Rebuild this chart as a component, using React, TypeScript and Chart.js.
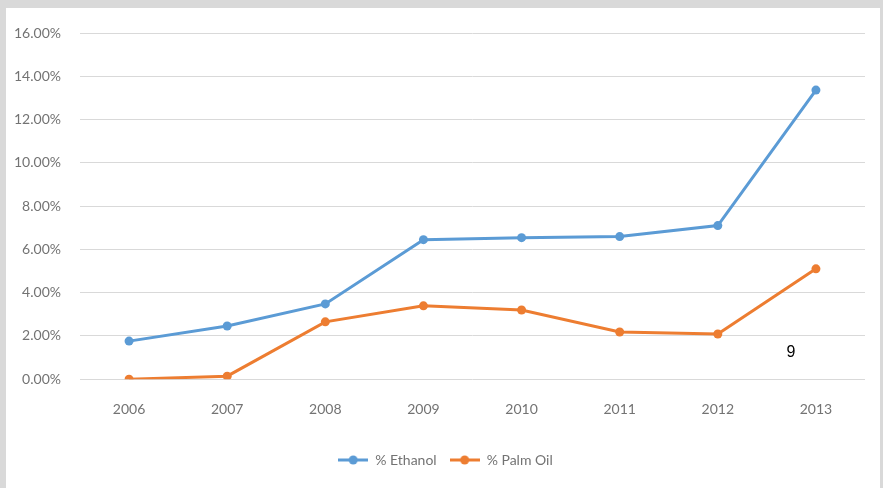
import React, { useEffect, useRef } from "react";
import { Chart, registerables } from "chart.js";

Chart.register(...registerables);

const years = ["2006", "2007", "2008", "2009", "2010", "2011", "2012", "2013"];
const ethanol = [1.76, 2.46, 3.48, 6.45, 6.54, 6.59, 7.1, 13.36];
const palmOil = [0.0, 0.14, 2.65, 3.39, 3.2, 2.18, 2.09, 5.1];
const seriesNames = ["% Ethanol", "% Palm Oil"];
const seriesColors = ["#5b9bd5", "#ed7d31"];

function legendIcon(color: string): HTMLCanvasElement {
  const c = document.createElement("canvas");
  c.width = 30;
  c.height = 10;
  const ctx = c.getContext("2d")!;
  ctx.strokeStyle = color;
  ctx.lineWidth = 3;
  ctx.beginPath();
  ctx.moveTo(0, 5);
  ctx.lineTo(30, 5);
  ctx.stroke();
  ctx.fillStyle = color;
  ctx.beginPath();
  ctx.arc(15, 5, 4.5, 0, Math.PI * 2);
  ctx.fill();
  return c;
}

const shiftLegend = {
  id: "shiftLegend",
  afterLayout(chart: any) {
    const l = chart.legend;
    if (l) {
      l.left += 10;
      l.right += 10;
    }
  },
};

export default function App() {
  const ref = useRef<HTMLCanvasElement>(null);

  useEffect(() => {
    document.body.style.margin = "0";
    const icons = seriesColors.map(legendIcon);
    const textColor = "#737373";
    const font = { family: "Lato", size: 14 };
    const chart = new Chart(ref.current!, {
      type: "line",
      plugins: [shiftLegend],
      data: {
        labels: years,
        datasets: [ethanol, palmOil].map((d, i) => ({
          label: seriesNames[i],
          data: d,
          borderColor: seriesColors[i],
          backgroundColor: seriesColors[i],
          borderWidth: 3,
          pointRadius: 4.5,
          pointBorderWidth: 0,
          tension: 0,
        })),
      },
      options: {
        animation: false,
        responsive: false,
        maintainAspectRatio: false,
        layout: { padding: { top: 25, right: 15, bottom: 11, left: 0 } },
        plugins: {
          tooltip: { enabled: false },
          legend: {
            position: "bottom",
            labels: {
              usePointStyle: true,
              pointStyleWidth: 30,
              padding: 13,
              color: textColor,
              font,
              generateLabels: (chart: any) =>
                chart.data.datasets.map((ds: any, i: number) => ({
                  text: ds.label,
                  pointStyle: icons[i],
                  fillStyle: seriesColors[i],
                  strokeStyle: seriesColors[i],
                  lineWidth: 0,
                  fontColor: textColor,
                  datasetIndex: i,
                  hidden: false,
                })),
            },
          },
        },
        scales: {
          x: {
            offset: true,
            grid: { display: false, drawTicks: false },
            border: { display: false },
            ticks: { color: textColor, font, padding: 22 },
          },
          y: {
            min: 0,
            max: 16,
            afterFit: (s: any) => {
              s.width = 74;
              s.paddingTop = 0;
              s.paddingBottom = 0;
            },
            grid: { color: "#d9d9d9", drawTicks: false },
            border: { display: false },
            ticks: {
              stepSize: 2,
              padding: 19,
              color: textColor,
              font,
              callback: (v: any) => Number(v).toFixed(2) + "%",
            },
          },
        },
      },
    });
    return () => chart.destroy();
  }, []);

  return (
    <div
      style={{
        position: "absolute",
        left: 0,
        top: 0,
        width: 883,
        height: 488,
        background: "#d9d9d9",
        overflow: "hidden",
      }}
    >
      <div
        style={{
          position: "absolute",
          left: 6,
          top: 8,
          width: 874,
          height: 480,
          background: "#ffffff",
        }}
      >
        <canvas ref={ref} width={874} height={480} style={{ width: 874, height: 480, display: "block" }} />
        <div
          style={{
            position: "absolute",
            left: 775,
            top: 335,
            width: 20,
            textAlign: "center",
            fontFamily: "Liberation Sans, Arial, sans-serif",
            fontSize: 16,
            color: "#000",
          }}
        >
          9
        </div>
      </div>
    </div>
  );
}
